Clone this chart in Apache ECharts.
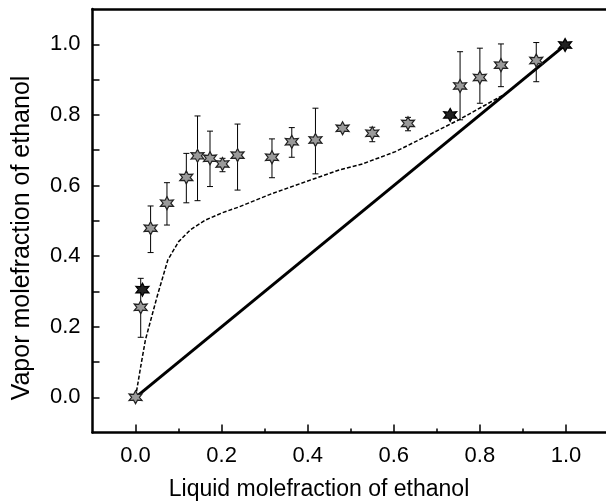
<!DOCTYPE html>
<html>
<head>
<meta charset="utf-8">
<script src="https://cdn.jsdelivr.net/npm/echarts@6/dist/echarts.min.js"></script>
<style>html,body{margin:0;padding:0;background:#fff;}#c{width:606px;height:502px;}</style>
</head>
<body>
<div id="c"></div>
<script>
// Data
var pointX  = [0, 0.012, 0.016, 0.035, 0.073, 0.118, 0.144, 0.173, 0.202, 0.237, 0.317, 0.363, 0.418, 0.481, 0.550, 0.633, 0.731, 0.754, 0.800, 0.849, 0.931, 0.998];
var pointY  = [0, 0.255, 0.305, 0.479, 0.550, 0.623, 0.684, 0.677, 0.661, 0.686, 0.680, 0.724, 0.729, 0.762, 0.748, 0.776, 0.800, 0.882, 0.906, 0.941, 0.954, 0.998];
var errLow  = [0, 0.170, 0.300, 0.410, 0.488, 0.551, 0.557, 0.597, 0.639, 0.587, 0.622, 0.680, 0.633, 0.752, 0.724, 0.755, 0.790, 0.786, 0.833, 0.880, 0.894, 0.990];
var errHigh = [0, 0.337, 0.310, 0.542, 0.608, 0.691, 0.797, 0.754, 0.677, 0.774, 0.732, 0.764, 0.819, 0.772, 0.765, 0.793, 0.810, 0.979, 0.989, 1.001, 1.005, 1.000];
var darkPoint = [false, false, true, false, false, false, false, false, false, false, false, false, false, false, false, false, true, false, false, false, false, true];

var curveX = [0, 0.012, 0.023, 0.050, 0.075, 0.100, 0.127, 0.162, 0.200, 0.242, 0.319, 0.396, 0.473, 0.527, 0.604, 0.681, 0.751, 0.820, 0.860, 1.0];
var curveY = [0, 0.087, 0.163, 0.285, 0.389, 0.441, 0.474, 0.502, 0.522, 0.540, 0.578, 0.611, 0.644, 0.661, 0.696, 0.743, 0.786, 0.833, 0.860, 1.0];

var diagX = [0, 1];
var diagY = [0, 1];

var majorTicks = [0, 0.2, 0.4, 0.6, 0.8, 1.0];
var minorTicksX = [0.1, 0.3, 0.5, 0.7, 0.9];
var allTicksY = [0, 0.1, 0.2, 0.3, 0.4, 0.5, 0.6, 0.7, 0.8, 0.9, 1.0];

var xTitle = 'Liquid molefraction of ethanol';
var yTitle = 'Vapor molefraction of ethanol';

var FONT = '"Liberation Sans", Arial, sans-serif';

var scatterData = pointX.map(function (x, i) {
  return {
    value: [x, pointY[i]],
    itemStyle: darkPoint[i] ? { color: '#222', borderColor: '#000' } : { color: '#9a9a9a', borderColor: '#222' }
  };
});
var errData = pointX.map(function (x, i) { return [x, errLow[i], errHigh[i]]; });
var curveData = curveX.map(function (x, i) { return [x, curveY[i]]; });
var diagData = diagX.map(function (x, i) { return [x, diagY[i]]; });

var starPath = 'path://M0,-10 L2.6,-4.5 L8.7,-5 L5.2,0 L8.7,5 L2.6,4.5 L0,10 L-2.6,4.5 L-8.7,5 L-5.2,0 L-8.7,-5 L-2.6,-4.5 Z';

function axisLineOn() { return { show: true, onZero: false, lineStyle: { color: '#000', width: 2.5 } }; }
function fmt(v) { return v.toFixed(1); }

var chart = echarts.init(document.getElementById('c'));

chart.setOption({
  animation: false,
  grid: { left: 92.5, right: -3, top: 9, bottom: 69.4, outerBoundsMode: 'none', show: false },
  graphic: [{
    type: 'text', x: 319, y: 490, silent: true,
    style: { text: xTitle, fontFamily: FONT, fontSize: 23, fill: '#000', textAlign: 'center', textVerticalAlign: 'middle' }
  }, {
    type: 'text', x: 22, y: 238, rotation: Math.PI / 2, silent: true,
    style: { text: yTitle, fontFamily: FONT, fontSize: 25, fill: '#000', textAlign: 'center', textVerticalAlign: 'middle' }
  }],
  xAxis: [{
    type: 'value', min: -0.1, max: 1.1,
    axisLine: axisLineOn(),
    splitLine: { show: false },
    axisTick: { show: true, inside: true, length: 8, lineStyle: { color: '#000', width: 1.5 }, customValues: majorTicks },
    axisLabel: { show: true, margin: 12, fontFamily: FONT, fontSize: 22, color: '#000', customValues: majorTicks, formatter: fmt }
  }, {
    type: 'value', min: -0.1, max: 1.1, position: 'bottom',
    axisLine: { show: false, onZero: false },
    splitLine: { show: false },
    axisTick: { show: true, inside: true, length: 4, lineStyle: { color: '#000', width: 1.5 }, customValues: minorTicksX },
    axisLabel: { show: false }
  }, {
    type: 'value', min: -0.1, max: 1.1, position: 'top',
    axisLine: axisLineOn(),
    splitLine: { show: false },
    axisTick: { show: false },
    axisLabel: { show: false }
  }],
  yAxis: [{
    type: 'value', min: -0.1, max: 1.1,
    axisLine: axisLineOn(),
    splitLine: { show: false },
    axisTick: { show: true, inside: true, length: 7, lineStyle: { color: '#000', width: 1.5 }, customValues: allTicksY },
    axisLabel: { show: true, margin: 12, fontFamily: FONT, fontSize: 22, color: '#000', customValues: majorTicks, formatter: fmt }
  }],
  series: [{
    type: 'line', data: diagData, symbol: 'none',
    lineStyle: { color: '#000', width: 3 }, z: 2
  }, {
    type: 'line', data: curveData, symbol: 'none',
    lineStyle: { color: '#000', width: 1.5, type: [4, 2] }, z: 2
  }, {
    type: 'custom', data: errData, z: 3,
    renderItem: function (params, api) {
      var x = api.value(0), lo = api.value(1), hi = api.value(2);
      if (hi - lo < 0.025) return null;
      var pLo = api.coord([x, lo]);
      var pHi = api.coord([x, hi]);
      var cap = 3;
      var st = { stroke: '#000', lineWidth: 1 };
      return {
        type: 'group',
        children: [
          { type: 'line', shape: { x1: pLo[0], y1: pLo[1], x2: pHi[0], y2: pHi[1] }, style: st },
          { type: 'line', shape: { x1: pLo[0] - cap, y1: pLo[1], x2: pLo[0] + cap, y2: pLo[1] }, style: st },
          { type: 'line', shape: { x1: pHi[0] - cap, y1: pHi[1], x2: pHi[0] + cap, y2: pHi[1] }, style: st }
        ]
      };
    }
  }, {
    type: 'scatter', data: scatterData, symbol: starPath, symbolSize: 13, z: 4,
    itemStyle: { borderWidth: 1.2, opacity: 1 }
  }]
});
</script>
</body>
</html>
